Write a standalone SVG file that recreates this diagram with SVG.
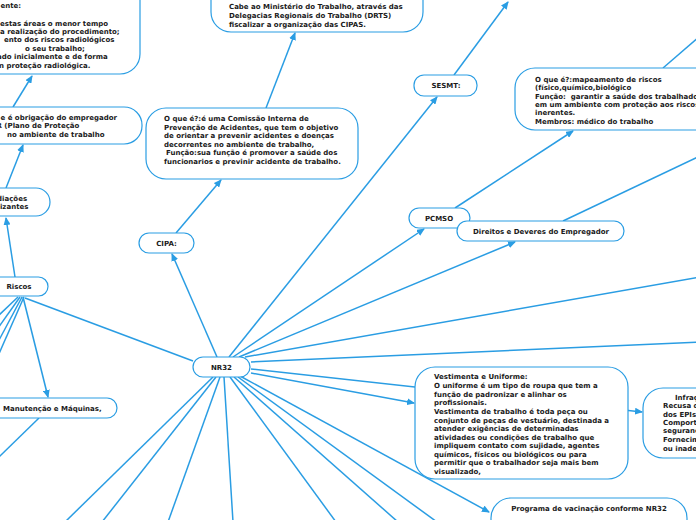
<svg xmlns="http://www.w3.org/2000/svg" width="696" height="520" viewBox="0 0 696 520">
<style>
.n{fill:#fff;stroke:#2a9de3;stroke-width:1.2}
.t{font-family:"DejaVu Sans",Verdana,sans-serif;font-weight:bold;font-size:7px;fill:#1a1a1a}
.c{text-anchor:middle}
.e{stroke:#2a9de3;stroke-width:1.5;fill:none}
.a{marker-end:url(#ah)}
</style>
<defs>
<marker id="ah" markerUnits="userSpaceOnUse" markerWidth="8" markerHeight="7" refX="7" refY="3.5" orient="auto">
<path d="M0,0 L8,3.5 L0,7 z" fill="#2a9de3"/>
</marker>
</defs>
<rect width="696" height="520" fill="#fff"/>
<g id="connectors">
<line class="e a" x1="217" y1="357" x2="172" y2="254"/>
<line class="e a" x1="176" y1="233" x2="221" y2="180"/>
<line class="e a" x1="266" y1="108" x2="295" y2="33"/>
<line class="e a" x1="229" y1="357" x2="437" y2="97"/>
<line class="e a" x1="454" y1="75" x2="508" y2="2"/>
<line class="e a" x1="233" y1="357" x2="424" y2="229"/>
<line class="e a" x1="455" y1="208" x2="573" y2="131"/>
<line class="e" x1="663" y1="68" x2="700" y2="36"/>
<line class="e a" x1="239" y1="357" x2="515" y2="242"/>
<line class="e" x1="563" y1="221" x2="700" y2="156"/>
<line class="e" x1="245" y1="357" x2="700" y2="277"/>
<line class="e" x1="251" y1="362" x2="700" y2="342"/>
<line class="e a" x1="251" y1="369" x2="642" y2="412"/>
<line class="e a" x1="251" y1="373" x2="414" y2="403"/>
<line class="e a" x1="240" y1="376" x2="489" y2="512"/>
<line class="e" x1="213" y1="377" x2="65" y2="522"/>
<line class="e" x1="216" y1="377" x2="102" y2="522"/>
<line class="e" x1="220" y1="377" x2="168" y2="522"/>
<line class="e" x1="224" y1="377" x2="233" y2="522"/>
<line class="e" x1="230" y1="377" x2="336" y2="522"/>
<line class="e" x1="234" y1="377" x2="398" y2="522"/>
<line class="e" x1="238" y1="377" x2="437" y2="522"/>
<line class="e" x1="193" y1="361" x2="25" y2="298"/>
<line class="e a" x1="15" y1="277" x2="6" y2="218"/>
<line class="e a" x1="6" y1="188" x2="23" y2="145"/>
<line class="e a" x1="13" y1="107" x2="32" y2="76"/>
<line class="e a" x1="23" y1="297" x2="48" y2="397"/>
<line class="e" x1="18" y1="297" x2="-2" y2="316"/>
<line class="e" x1="20" y1="297" x2="-2" y2="328"/>
<line class="e" x1="22" y1="297" x2="-2" y2="342"/>
<line class="e" x1="24" y1="297" x2="-2" y2="356"/>
<line class="e" x1="39" y1="418" x2="-2" y2="458"/>
</g>
<g id="nr32"><rect class="n" x="193" y="357" width="57" height="20" rx="10"/><text class="t c" x="221.5" y="369.5">NR32</text></g>
<g id="cipa"><rect class="n" x="139" y="233" width="55" height="20" rx="10"/><text class="t c" x="166.5" y="245.5">CIPA:</text></g>
<g id="cipa-def"><rect class="n" x="146" y="108" width="212" height="71" rx="20"/>
<text class="t" x="164" y="121">O que é?:é uma Comissão Interna de</text>
<text class="t" x="164" y="129.5">Prevenção de Acidentes, que tem o objetivo</text>
<text class="t" x="164" y="138">de orientar a prevenir acidentes e doenças</text>
<text class="t" x="164" y="146.5">decorrentes no ambiente de trabalho,</text>
<text class="t" x="166" y="155">Função:sua função é promover a saúde dos</text>
<text class="t" x="164" y="163.7">funcionarios e previnir acidente de trabalho.</text></g>
<g id="cipa-fisc"><rect class="n" x="211" y="-40" width="212" height="72" rx="20"/>
<text class="t" x="229" y="9.2">Cabe ao Ministério do Trabalho, através das</text>
<text class="t" x="229" y="17.7">Delegacias Regionais do Trabalho (DRTS)</text>
<text class="t" x="229" y="26.5">fiscalizar a organização das CIPAS.</text></g>
<g id="sesmt"><rect class="n" x="414" y="75" width="63" height="21" rx="10"/><text class="t c" x="446" y="88">SESMT:</text></g>
<g id="pcmso"><rect class="n" x="409" y="208" width="61" height="20" rx="10"/><text class="t c" x="439" y="220.5">PCMSO</text></g>
<g id="pcmso-def"><rect class="n" x="515" y="68" width="220" height="62" rx="20"/>
<text class="t" x="535" y="81.5">O que é?:mapeamento de riscos</text>
<text class="t" x="535" y="90">(físico,químico,biológico</text>
<text class="t" x="535" y="98.5" xml:space="preserve">Função:  garantir a saúde dos trabalhadores</text>
<text class="t" x="535" y="107">em um ambiente com proteção aos riscos</text>
<text class="t" x="535" y="115.2">inerentes.</text>
<text class="t" x="535" y="124">Membros: médico do trabalho</text></g>
<g id="direitos"><rect class="n" x="457" y="221" width="167" height="20" rx="10"/><text class="t c" x="541" y="233.5">Direitos e Deveres do Empregador</text></g>
<g id="vestimenta"><rect class="n" x="415" y="367" width="213" height="112" rx="20"/>
<text class="t" x="434" y="379.2">Vestimenta e Uniforme:</text>
<text class="t" x="434" y="388.2">O uniforme é um tipo de roupa que tem a</text>
<text class="t" x="434" y="396.8">função de padronizar e alinhar os</text>
<text class="t" x="434" y="405.2">profissionais.</text>
<text class="t" x="434" y="414.2">Vestimenta de trabalho é toda peça ou</text>
<text class="t" x="434" y="422.8">conjunto de peças de vestuário, destinada a</text>
<text class="t" x="434" y="431.2">atender exigências de determinadas</text>
<text class="t" x="434" y="439.5">atividades ou condições de trabalho que</text>
<text class="t" x="434" y="447.8">impliquem contato com sujidade, agentes</text>
<text class="t" x="434" y="456.8">químicos, físicos ou biológicos ou para</text>
<text class="t" x="434" y="465.2">permitir que o trabalhador seja mais bem</text>
<text class="t" x="434" y="473.5">visualizado,</text></g>
<g id="infracoes"><rect class="n" x="643" y="388" width="100" height="70" rx="20"/>
<text class="t" x="675" y="399.5">Infrações</text>
<text class="t" x="663" y="408.2">Recusa do uso</text>
<text class="t" x="663" y="416.8">dos EPIs;</text>
<text class="t" x="663" y="424.8">Comportamento</text>
<text class="t" x="663" y="433.2">segurança</text>
<text class="t" x="663" y="441.8">Fornecimento</text>
<text class="t" x="663" y="450.8">ou inadequado</text></g>
<g id="vacinacao"><rect class="n" x="491" y="498" width="196" height="50" rx="20"/><text class="t c" x="589" y="510.5">Programa de vacinação conforme NR32</text></g>
<g id="riscos"><rect class="n" x="-10" y="277" width="58" height="19" rx="9.5"/><text class="t c" x="19" y="289">Riscos</text></g>
<g id="radiacoes"><rect class="n" x="-40" y="188" width="90" height="28" rx="14"/>
<text class="t c" x="7" y="200.8">Radiações</text>
<text class="t c" x="8" y="209.2">Ionizantes</text></g>
<g id="ppr"><rect class="n" x="-80" y="107" width="222" height="37" rx="18"/>
<text class="t" x="0.5" y="119.5">e é obrigação do empregador</text>
<text class="t" x="-3.5" y="128">R (Plano de Proteção</text>
<text class="t" x="7" y="136.5">no ambiente de trabalho</text></g>
<g id="protecao"><rect class="n" x="-80" y="-40" width="220" height="114" rx="20"/>
<text class="t" x="0.5" y="8.2">ente:</text>
<text class="t" x="0" y="25.5">estas áreas o menor tempo</text>
<text class="t" x="0" y="34.2">a realização do procedimento;</text>
<text class="t" x="4" y="41.8">ento dos riscos radiológicos</text>
<text class="t" x="25" y="50.8">o seu trabalho;</text>
<text class="t" x="-3" y="59.2">ado inicialmente e de forma</text>
<text class="t" x="-1" y="68.2">n proteção radiológica.</text></g>
<g id="manutencao"><rect class="n" x="-30" y="398" width="147" height="20" rx="10"/><text class="t" x="3" y="410.5">Manutenção e Máquinas,</text></g>
</svg>
